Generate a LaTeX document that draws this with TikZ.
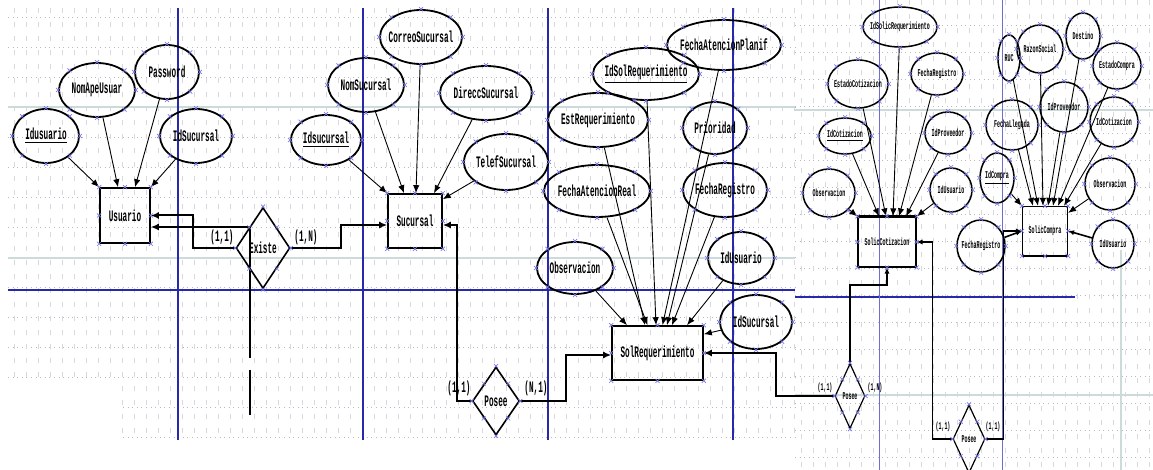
\documentclass[tikz,border=0pt]{standalone}
\usepackage{fontspec}
\newfontfamily\erfont{Liberation Mono}[FakeStretch=0.48]
\usetikzlibrary{shapes.geometric,arrows.meta}
\definecolor{pblue}{RGB}{40,40,170}
\definecolor{lblue}{RGB}{110,110,210}
\definecolor{hblue}{RGB}{120,120,230}
\definecolor{gridc}{RGB}{185,185,195}
\definecolor{gridl}{RGB}{205,218,218}
\tikzset{
  bigf/.style={font=\erfont\bfseries\fontsize{8}{9}\selectfont},
  smf/.style={font=\erfont\bfseries\fontsize{5.2}{6}\selectfont},
  attr/.style={ellipse,draw,line width=0.9pt,inner sep=0pt,inner xsep=-3pt,bigf},
  sattr/.style={ellipse,draw,line width=0.75pt,inner sep=0pt,inner xsep=-3pt,smf},
  ent/.style={rectangle,draw,line width=0.8pt,inner sep=0pt,bigf},
  sent/.style={rectangle,draw,line width=0.6pt,inner sep=0pt,smf},
  relsh/.style={diamond,draw,line width=0.8pt,inner sep=0pt,bigf},
  srelsh/.style={diamond,draw,line width=0.6pt,inner sep=0pt,smf},
  acon/.style={line width=0.45pt,-{Latex[length=4pt,width=3.2pt]}},
  rcon/.style={line width=1pt,-{Latex[length=4pt,width=3.5pt]}},
  rline/.style={line width=1pt},
  srcon/.style={line width=0.8pt,-{Latex[length=3pt,width=2.6pt]}},
  lbl/.style={inner sep=0pt,bigf},
  slbl/.style={inner sep=0pt,smf},
  handle/.style={hblue,line width=0.35pt},
  gridh/.style={gridc,dotted,line width=0.3pt},
  gridv/.style={gridc!55,dash pattern=on 2.5pt off 4.5pt,line width=0.25pt},
  bline/.style={pblue,line width=0.6pt},
  bhline/.style={pblue,line width=1.1pt},
  lbline/.style={lblue,line width=0.5pt}
}
\newcommand\hdl[1]{\foreach \a in {north,south,east,west,north east,north west,south east,south west}{%
  \draw[handle] ([shift={(-2,-2)}]#1.\a) -- ([shift={(2,2)}]#1.\a) ([shift={(-2,2)}]#1.\a) -- ([shift={(2,-2)}]#1.\a);}}
\begin{document}
\begin{tikzpicture}[x=0.5pt,y=-0.5pt]
\useasboundingbox (0,0) rectangle (1153,470);
\fill[white] (0,0) rectangle (1153,470);
% ---------- background grid ----------
\foreach \y in {17,47,...,437} \draw[gridh] (8,\y) -- (795,\y);
\foreach \x in {14,26,...,794} \draw[gridv] (\x,8) -- (\x,440);
\draw[gridl,line width=0.6pt] (8,107) -- (795,107) (8,258) -- (795,258);
\fill[white] (0,384) rectangle (121,441);
\foreach \y in {25,52,...,466} \draw[gridh] (795,\y) -- (1153,\y);
\foreach \x in {801,813,...,1153} \draw[gridv] (\x,0) -- (\x,470);
\draw[gridl,line width=0.6pt] (795,110) -- (1153,110) (795,395) -- (1153,395);
% ---------- page lines ----------
\foreach \x in {178,363,548,733} \draw[bline] (\x,8) -- (\x,440);
\draw[bhline] (8,290) -- (795,290);
\draw[bhline] (795,297) -- (1075,297);
\foreach \x in {879,1002} \draw[lbline] (\x,0) -- (\x,470);
\draw[gridl,line width=0.6pt] (1121,250) -- (1121,470);
% ---------- Usuario ----------
\node[ent,minimum width=25pt,minimum height=27.5pt] (us) at (125,215.5) {Usuario};
\node[attr,minimum width=33pt,minimum height=27pt] (a1) at (46,136) {\underline{Idusuario}};
\node[attr,minimum width=38pt,minimum height=27pt] (a2) at (97,90) {NomApeUsuar};
\node[attr,minimum width=32pt,minimum height=27pt] (a3) at (167,72) {Password};
\node[attr,minimum width=36pt,minimum height=27pt] (a4) at (196,136) {IdSucursal};
\draw[acon] (a1) -- (us.north west);
\draw[acon] (a2) -- ([xshift=-3.5pt]us.north);
\draw[acon] (a3) -- ([xshift=5pt]us.north);
\draw[acon] (a4) -- (us.north east);
% ---------- Sucursal ----------
\node[ent,minimum width=27pt,minimum height=27pt] (su) at (415,221) {Sucursal};
\node[attr,minimum width=35pt,minimum height=25pt] (b1) at (326,140) {\underline{Idsucursal}};
\node[attr,minimum width=38pt,minimum height=27pt] (b2) at (366,85) {NomSucursal};
\node[attr,minimum width=41pt,minimum height=27pt] (b3) at (421,37) {CorreoSucursal};
\node[attr,minimum width=46pt,minimum height=27pt] (b4) at (486,93) {DireccSucursal};
\node[attr,minimum width=42pt,minimum height=28pt] (b5) at (506,162) {TelefSucursal};
\draw[acon] (b1) -- (su.north west);
\draw[acon] (b2) -- ([xshift=-5.5pt]su.north);
\draw[acon] (b3) -- ([xshift=0.5pt]su.north);
\draw[acon] (b4) -- ([xshift=9.5pt]su.north);
\draw[acon] (b5) -- ([yshift=-3pt]su.north east);
% ---------- Existe ----------
\node[relsh,minimum width=27pt,minimum height=40.5pt] (ex) at (263,248) {Existe};
\coordinate (e1) at (250,358);
\coordinate (e2) at (250,370);
\coordinate (e3) at (250,415);
\draw[rcon] (ex.west) -- ++(-42,0) |- (us.east);
\draw[rcon] (e1) -- (250,227) -- ([yshift=-5.75pt]us.east);
\draw[rline] (e2) -- (e3);
\draw[rcon] (ex.east) -- ++(50,0) |- ([yshift=-2pt]su.west);
\node[lbl] (l1) at (222,237) {(1,1)};
\node[lbl] (l2) at (306,237) {(1,N)};
% ---------- SolRequerimiento ----------
\node[ent,minimum width=45.5pt,minimum height=27pt] (sr) at (657.5,353) {SolRequerimiento};
\node[attr,minimum width=57pt,minimum height=25pt] (c1) at (724,45) {FechaAtencionPlanif};
\node[attr,minimum width=53pt,minimum height=26pt] (c2) at (646,74) {\underline{IdSolRequerimiento}};
\node[attr,minimum width=50pt,minimum height=27pt] (c3) at (598,120) {EstRequerimiento};
\node[attr,minimum width=32pt,minimum height=26pt] (c4) at (715,128) {Prioridad};
\node[attr,minimum width=53pt,minimum height=26pt] (c5) at (597,191) {FechaAtencionReal};
\node[attr,minimum width=42pt,minimum height=27pt] (c6) at (725,190) {FechaRegistro};
\node[attr,minimum width=38pt,minimum height=26pt] (c7) at (575,268) {Observacion};
\node[attr,minimum width=33pt,minimum height=26pt] (c8) at (741,258) {IdUsuario};
\node[attr,minimum width=36pt,minimum height=27pt] (c9) at (756,322) {IdSucursal};
\draw[acon] (c7) -- ([xshift=-15.25pt]sr.north);
\draw[acon] (c3) -- ([xshift=-6.25pt]sr.north);
\draw[acon] (c5) -- ([xshift=-5pt]sr.north);
\draw[acon] (c2) -- ([xshift=-0.75pt]sr.north);
\draw[acon] (c1) -- ([xshift=2.5pt]sr.north);
\draw[acon] (c4) -- ([xshift=4.75pt]sr.north);
\draw[acon] (c6) -- ([xshift=7.25pt]sr.north);
\draw[acon] (c8) -- ([xshift=14.75pt]sr.north);
\draw[acon] (c9) -- ([yshift=-4.5pt]sr.north east);
% ---------- Posee (left) ----------
\node[relsh,minimum width=23.5pt,minimum height=34pt] (p1) at (496,401) {Posee};
\draw[rcon] (p1.west) -- ++(-15,0) |- ([yshift=-2pt]su.east);
\draw[rcon] (p1.east) -- ++(46,0) |- ([yshift=-1pt]sr.west);
\node[lbl] (l3) at (459,388) {(1,1)};
\node[lbl] (l4) at (536,388) {(N,1)};
% ---------- SolicCotizacion ----------
\node[sent,minimum width=29pt,minimum height=25pt] (sc) at (887,242) {SolicCotizacion};
\draw[line width=1.6pt] (sc.north west) -- (sc.north east);
\node[sattr,minimum width=37pt,minimum height=20pt] (d1) at (900,27) {IdSolicRequerimiento};
\node[sattr,minimum width=30pt,minimum height=24pt] (d2) at (858,84) {EstadoCotizacion};
\node[sattr,minimum width=26pt,minimum height=21pt] (d3) at (937,74) {FechaRegistro};
\node[sattr,minimum width=26pt,minimum height=18pt] (d4) at (845,136) {\underline{IdCotizacion}};
\node[sattr,minimum width=23pt,minimum height=21pt] (d5) at (948,133) {IdProveedor};
\node[sattr,minimum width=26pt,minimum height=24pt] (d6) at (829,193) {Observacion};
\node[sattr,minimum width=21pt,minimum height=22pt] (d7) at (951,190) {IdUsuario};
\draw[acon] (d4) -- ([xshift=-4pt]sc.north);
\draw[acon] (d2) -- ([xshift=-0.5pt]sc.north);
\draw[acon] (d1) -- ([xshift=3pt]sc.north);
\draw[acon] (d3) -- ([xshift=6pt]sc.north);
\draw[acon] (d5) -- ([xshift=9.5pt]sc.north);
\draw[acon] (d6) -- (sc.north west);
\draw[acon] (d7) -- (sc.north east);
% ---------- SolicCompra ----------
\node[sent,minimum width=22.5pt,minimum height=24.5pt] (scp) at (1045,231) {SolicCompra};
\draw[line width=1.4pt] (scp.south west) -- (scp.south east);
\node[sattr,minimum width=11pt,minimum height=23pt] (f1) at (1009,58) {RUC};
\node[sattr,minimum width=23pt,minimum height=24pt] (f2) at (1040,49) {RazonSocial};
\node[sattr,minimum width=17pt,minimum height=23pt] (f3) at (1083,36) {Destino};
\node[sattr,minimum width=24pt,minimum height=23pt] (f4) at (1117,66) {EstadoCompra};
\node[sattr,minimum width=26pt,minimum height=25pt] (f5) at (1012,125) {FechaLlegada};
\node[sattr,minimum width=24pt,minimum height=25pt] (f6) at (1064,107) {IdProveedor};
\node[sattr,minimum width=24pt,minimum height=25pt] (f7) at (1114,122) {IdCotizacion};
\node[sattr,minimum width=17pt,minimum height=25pt] (f8) at (997,178) {\underline{IdCompra}};
\node[sattr,minimum width=24pt,minimum height=26pt] (f9) at (981,246) {FechaRegistro};
\node[sattr,minimum width=25pt,minimum height=26pt] (f10) at (1110,184) {Observacion};
\node[sattr,minimum width=21pt,minimum height=24pt] (f11) at (1113,244) {IdUsuario};
\draw[acon] (f5) -- ([xshift=-6pt]scp.north);
\draw[acon] (f1) -- ([xshift=-3.5pt]scp.north);
\draw[acon] (f2) -- ([xshift=-1pt]scp.north);
\draw[acon] (f6) -- ([xshift=1.5pt]scp.north);
\draw[acon] (f3) -- ([xshift=4pt]scp.north);
\draw[acon] (f4) -- ([xshift=6.5pt]scp.north);
\draw[acon] (f7) -- ([xshift=9.5pt]scp.north);
\draw[acon] (f8) -- (scp.north west);
\draw[acon] (f10) -- ([yshift=-3.5pt]scp.north east);
\draw[srcon] (f9) -- (scp.west);
\draw[srcon] (f11) -- (scp.east);
% ---------- Posee (right) ----------
\node[srelsh,minimum width=15pt,minimum height=32.5pt] (p2) at (850,396) {Posee};
\draw[srcon] (p2.north) -- ++(0,-78) -| (sc.south);
\draw[rcon] (p2.west) -- ++(-58,0) |- (sr.east);
\node[slbl] (l5) at (825,388) {(1,1)};
\node[slbl] (l6) at (875,388) {(1,N)};
\node[srelsh,minimum width=16pt,minimum height=34pt] (p3) at (969,439) {Posee};
\draw[srcon] (p3.west) -- ++(-20,0) |- (sc.east);
\draw[srcon] (p3.east) -- ++(18,0) |- (scp.west);
\node[slbl] (l7) at (943,427) {(1,1)};
\node[slbl] (l8) at (993,427) {(1,1)};
% ---------- selection handles ----------
\foreach \n in {us,a1,a2,a3,a4,su,b1,b2,b3,b4,b5,ex,sr,c1,c2,c3,c4,c5,c6,c7,c8,c9,p1,sc,d1,d2,d3,d4,d5,d6,d7,scp,f1,f2,f3,f4,f5,f6,f7,f8,f9,f10,f11,p2,p3} {\hdl{\n}}
\end{tikzpicture}
\end{document}
